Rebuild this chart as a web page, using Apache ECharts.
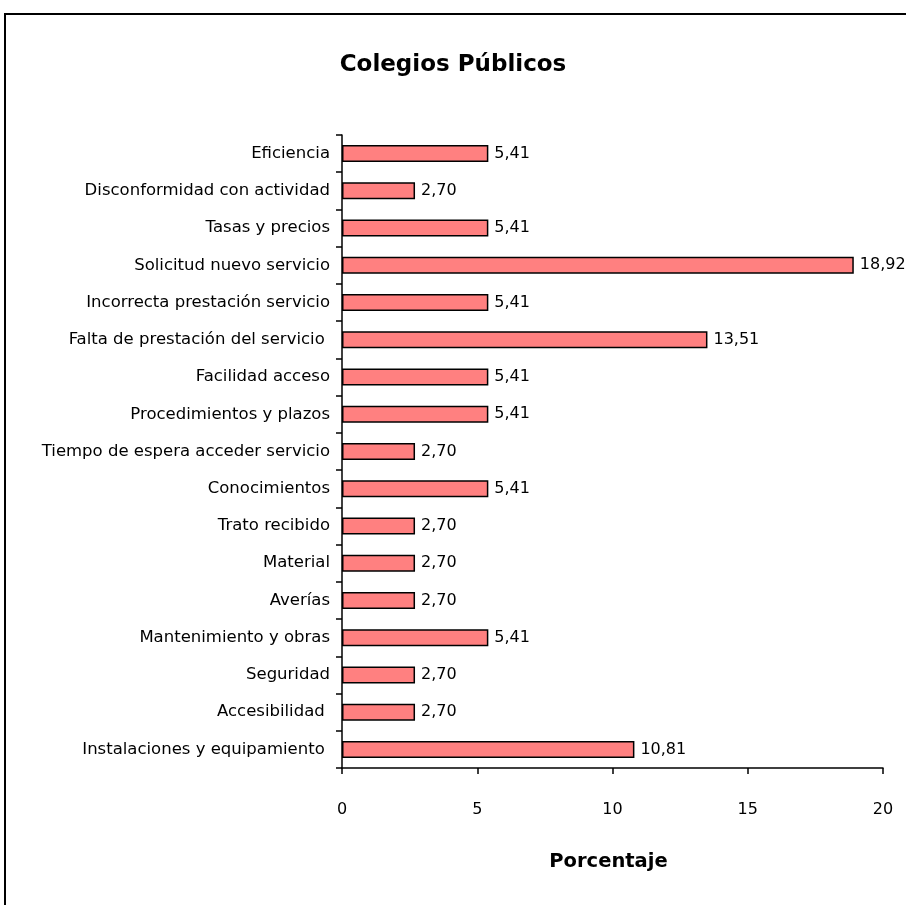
<!DOCTYPE html>
<html>
<head>
<meta charset="UTF-8">
<title>Colegios Públicos</title>
<script src="https://cdn.jsdelivr.net/npm/echarts@6/dist/echarts.min.js"></script>
<style>
  html, body { margin: 0; padding: 0; background: #fff; }
  #frame { position: absolute; left: 4px; top: 13px; width: 940px; height: 940px; border: 2px solid #000; box-sizing: border-box; }
  #chart { position: absolute; left: 0; top: 0; width: 906px; height: 905px; }
</style>
</head>
<body>
<div id="frame"></div>
<div id="chart"></div>
<script type="text/javascript">
    // categorías (de arriba a abajo)
    var categorias = [
        'Eficiencia',
        'Disconformidad con actividad',
        'Tasas y precios',
        'Solicitud nuevo servicio',
        'Incorrecta prestación servicio',
        'Falta de prestación del servicio ',
        'Facilidad acceso',
        'Procedimientos y plazos',
        'Tiempo de espera acceder servicio',
        'Conocimientos',
        'Trato recibido',
        'Material',
        'Averías',
        'Mantenimiento y obras',
        'Seguridad',
        'Accesibilidad ',
        'Instalaciones y equipamiento '
    ];
    // porcentajes
    var valores = [5.41, 2.70, 5.41, 18.92, 5.41, 13.51, 5.41, 5.41, 2.70, 5.41, 2.70, 2.70, 2.70, 5.41, 2.70, 2.70, 10.81];

    var fuente = '"DejaVu Sans", sans-serif';
    var myChart = echarts.init(document.getElementById('chart'));

    option = {
        animation: false,
        title: {
            text: 'Colegios Públicos',
            left: 'center',
            top: 49,
            textStyle: { fontFamily: fuente, fontSize: 23, fontWeight: 'bold', color: '#000' }
        },
        grid: { left: 342, right: 23, top: 135, bottom: 137, containLabel: false },
        xAxis: {
            type: 'value',
            min: 0,
            max: 20,
            interval: 5,
            name: 'Porcentaje',
            nameLocation: 'middle',
            nameGap: 84,
            nameTextStyle: { fontFamily: fuente, fontSize: 19.5, fontWeight: 'bold', color: '#000', padding: [0, 8, 0, 0] },
            splitLine: { show: false },
            axisLine: { show: true, lineStyle: { color: '#000', width: 1.5 } },
            axisTick: { show: true, length: 6, lineStyle: { color: '#000', width: 1.5 } },
            axisLabel: { margin: 34, fontFamily: fuente, fontSize: 16, color: '#000' }
        },
        yAxis: {
            type: 'category',
            inverse: true,
            data: categorias,
            axisLine: { show: true, lineStyle: { color: '#000', width: 1.5 } },
            axisTick: { show: true, length: 6, lineStyle: { color: '#000', width: 1.5 } },
            axisLabel: { margin: 12, fontFamily: fuente, fontSize: 16.5, color: '#000' }
        },
        series: [{
            type: 'bar',
            data: valores,
            barWidth: 17,
            itemStyle: { color: '#FF8080', borderColor: '#000', borderWidth: 1.5 },
            label: {
                show: true,
                position: 'right',
                distance: 6,
                fontFamily: fuente,
                fontSize: 16,
                color: '#000',
                formatter: function (p) { return p.value.toFixed(2).replace('.', ','); }
            }
        }]
    };
    myChart.setOption(option);
</script>
</body>
</html>
